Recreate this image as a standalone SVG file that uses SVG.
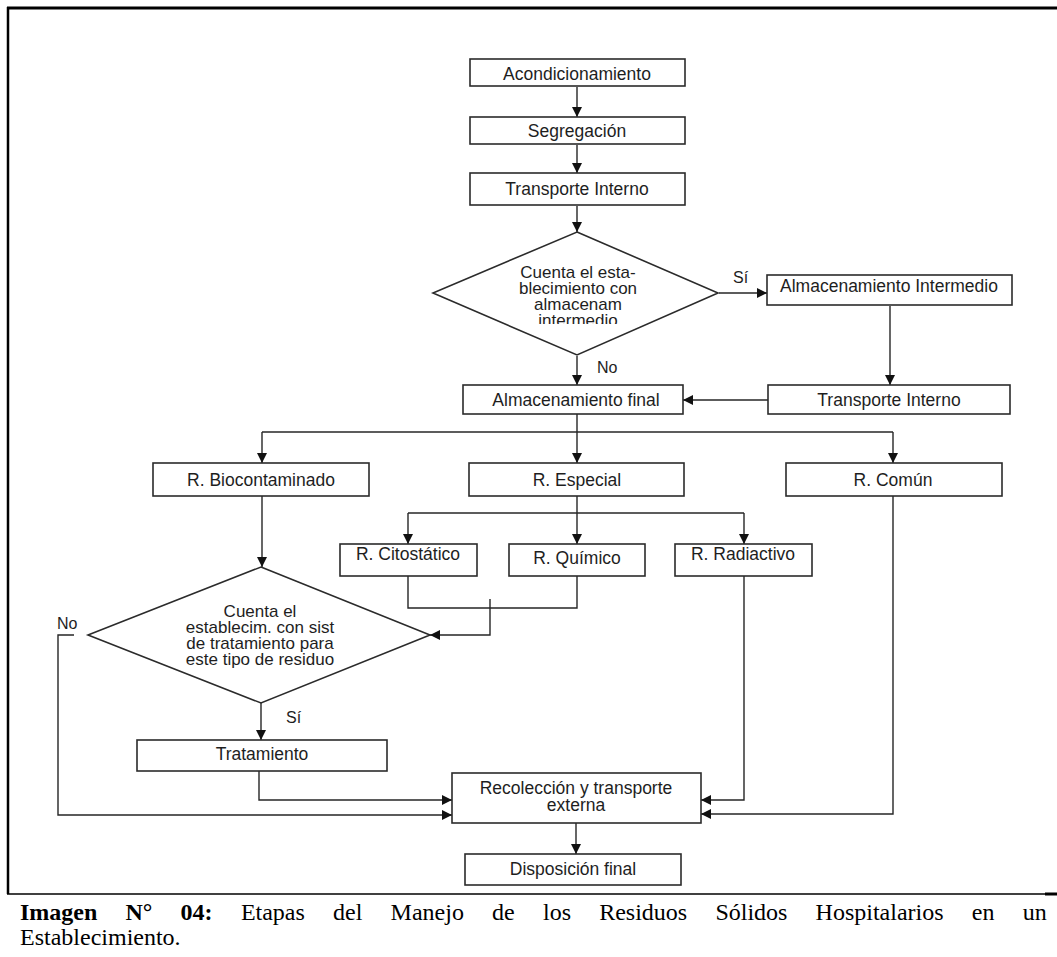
<svg xmlns="http://www.w3.org/2000/svg" width="1057" height="957" viewBox="0 0 1057 957">
<style>
.box{fill:#fff;stroke:#2b2b2b;stroke-width:1.6}
.t{font-family:"Liberation Sans",Arial,sans-serif;font-size:17.5px;fill:#1e1e1e;text-anchor:middle}
.dt{font-family:"Liberation Sans",Arial,sans-serif;font-size:17px;fill:#1e1e1e;text-anchor:middle}
.lbl{font-family:"Liberation Sans",Arial,sans-serif;font-size:16px;fill:#1e1e1e}
.c{fill:none;stroke:#262626;stroke-width:1.4}
.ca{fill:none;stroke:#262626;stroke-width:1.4;marker-end:url(#ah)}
.cap{font-family:"Liberation Serif","Times New Roman",serif;font-size:24px;fill:#000}
.capb{font-family:"Liberation Serif","Times New Roman",serif;font-size:24px;font-weight:bold;fill:#000}
</style>
<defs>
<marker id="ah" viewBox="0 0 10 10" refX="10" refY="5" markerUnits="userSpaceOnUse" markerWidth="10" markerHeight="12" orient="auto">
<path d="M0,0 L10,5 L0,10 z" fill="#111"/>
</marker>
<clipPath id="d1clip"><rect x="430" y="230" width="300" height="94"/></clipPath>
</defs>
<rect width="1057" height="957" fill="#fff"/>
<g id="frame">
<line x1="7" y1="8" x2="1057" y2="8" stroke="#000" stroke-width="3"/>
<line x1="8" y1="7" x2="8" y2="894" stroke="#000" stroke-width="2.5"/>
<line x1="7" y1="894" x2="1045" y2="894" stroke="#000" stroke-width="1.5"/>
<line x1="1045" y1="894" x2="1057" y2="894" stroke="#000" stroke-width="3"/>
</g>
<g id="connectors">
<line class="ca" x1="577" y1="87" x2="577" y2="117"/>
<line class="ca" x1="577" y1="145" x2="577" y2="173"/>
<line class="ca" x1="577" y1="206" x2="577" y2="232"/>
<line class="ca" x1="719" y1="293" x2="767" y2="293"/>
<line class="ca" x1="890" y1="306" x2="890" y2="385"/>
<line class="ca" x1="768" y1="400" x2="683" y2="400"/>
<line class="ca" x1="577" y1="356" x2="577" y2="385"/>
<polyline class="c" points="577,414 577,432"/>
<line class="c" x1="262" y1="432" x2="893" y2="432"/>
<line class="ca" x1="262" y1="432" x2="262" y2="463"/>
<line class="ca" x1="577" y1="432" x2="577" y2="463"/>
<line class="ca" x1="893" y1="432" x2="893" y2="463"/>
<line class="ca" x1="262" y1="496" x2="262" y2="567"/>
<polyline class="c" points="577,496 577,513"/>
<line class="c" x1="408" y1="513" x2="744" y2="513"/>
<line class="ca" x1="408" y1="513" x2="408" y2="544"/>
<line class="ca" x1="577" y1="513" x2="577" y2="544"/>
<line class="ca" x1="744" y1="513" x2="744" y2="544"/>
<polyline class="c" points="408,576 408,608 577,608 577,576"/>
<polyline class="ca" points="490,599 490,635 430,635"/>
<polyline class="ca" points="74,635 58,635 58,815 452,815"/>
<line class="ca" x1="261" y1="703" x2="261" y2="740"/>
<polyline class="ca" points="259,771 259,800 452,800"/>
<polyline class="ca" points="744,576 744,800 701,800"/>
<polyline class="ca" points="893,496 893,814 701,814"/>
<line class="ca" x1="576" y1="823" x2="576" y2="854"/>
<text class="lbl" x="733" y="283">Sí</text>
<text class="lbl" x="597" y="373">No</text>
<text class="lbl" x="57" y="629">No</text>
<text class="lbl" x="286" y="723">Sí</text>
</g>
<g id="n1"><rect class="box" x="470" y="59" width="215" height="27"/><text class="t" x="577" y="80">Acondicionamiento</text></g>
<g id="n2"><rect class="box" x="470" y="117" width="215" height="27"/><text class="t" x="577" y="137">Segregación</text></g>
<g id="n3"><rect class="box" x="470" y="173" width="215" height="32"/><text class="t" x="577" y="195">Transporte Interno</text></g>
<g id="d1"><polygon class="box" points="577,232 718,293 577,355 433,293"/>
<g clip-path="url(#d1clip)"><text class="dt" x="578" y="278">Cuenta el esta-</text><text class="dt" x="578" y="294">blecimiento con</text><text class="dt" x="578" y="310">almacenam</text><text class="dt" x="578" y="326">intermedio</text></g></g>
<g id="n4"><rect class="box" x="767" y="275" width="245" height="30"/><text class="t" x="889" y="292">Almacenamiento Intermedio</text></g>
<g id="n5"><rect class="box" x="768" y="385" width="242" height="29"/><text class="t" x="889" y="406">Transporte Interno</text></g>
<g id="n6"><rect class="box" x="463" y="385" width="220" height="29"/><text class="t" x="576" y="406">Almacenamiento final</text></g>
<g id="n7"><rect class="box" x="153" y="463" width="216" height="33"/><text class="t" x="261" y="486">R. Biocontaminado</text></g>
<g id="n8"><rect class="box" x="469" y="463" width="215" height="33"/><text class="t" x="577" y="486">R. Especial</text></g>
<g id="n9"><rect class="box" x="786" y="463" width="216" height="33"/><text class="t" x="893" y="486">R. Común</text></g>
<g id="n10"><rect class="box" x="340" y="544" width="137" height="32"/><text class="t" x="408" y="560">R. Citostático</text></g>
<g id="n11"><rect class="box" x="509" y="544" width="136" height="32"/><text class="t" x="577" y="564">R. Químico</text></g>
<g id="n12"><rect class="box" x="675" y="544" width="137" height="32"/><text class="t" x="743" y="560">R. Radiactivo</text></g>
<g id="d2"><polygon class="box" points="261,567 430,635 261,703 88,635"/>
<text class="dt" x="260" y="617">Cuenta el</text><text class="dt" x="260" y="633">establecim. con sist</text><text class="dt" x="260" y="649">de tratamiento para</text><text class="dt" x="260" y="665">este tipo de residuo</text></g>
<g id="n13"><rect class="box" x="137" y="740" width="250" height="31"/><text class="t" x="262" y="760">Tratamiento</text></g>
<g id="n14"><rect class="box" x="452" y="773" width="249" height="50"/><text class="t" x="576" y="794">Recolección y transporte</text><text class="t" x="576" y="811">externa</text></g>
<g id="n15"><rect class="box" x="465" y="854" width="216" height="31"/><text class="t" x="573" y="875">Disposición final</text></g>
<g id="caption">
<text class="capb" y="920"><tspan x="20">Imagen</tspan><tspan x="125.5">N°</tspan><tspan x="180.6">04:</tspan></text>
<text class="cap" y="920"><tspan x="240.9">Etapas</tspan><tspan x="333.1">del</tspan><tspan x="390.6">Manejo</tspan><tspan x="492.1">de</tspan><tspan x="543">los</tspan><tspan x="599.2">Residuos</tspan><tspan x="715.4">Sólidos</tspan><tspan x="815.6">Hospitalarios</tspan><tspan x="971.8">en</tspan><tspan x="1022.7">un</tspan></text>
<text class="cap" x="20" y="945">Establecimiento.</text>
</g>
</svg>
